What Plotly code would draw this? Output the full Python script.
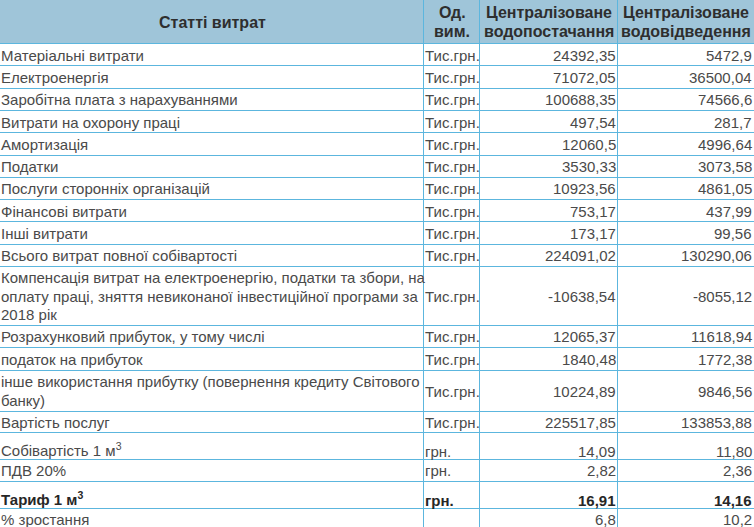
import plotly.graph_objects as go

# ---------------- data ----------------
header_labels = ["Статті витрат", "Од.<br>вим.", "Централізоване<br>водопостачання", "Централізоване<br>водовідведення"]

items = [
    "Матеріальні витрати",
    "Електроенергія",
    "Заробітна плата з нарахуваннями",
    "Витрати на охорону праці",
    "Амортизація",
    "Податки",
    "Послуги сторонніх організацій",
    "Фінансові витрати",
    "Інші витрати",
    "Всього витрат повної собівартості",
    "Компенсація витрат на електроенергію, податки та збори, на<br>оплату праці, зняття невиконаної інвестиційної програми за<br>2018 рік",
    "Розрахунковий прибуток, у тому числі",
    "податок на прибуток",
    "інше використання прибутку (повернення кредиту Світового<br>банку)",
    "Вартість послуг",
    "Собівартість 1 м<sup>3</sup>",
    "ПДВ 20%",
    "Тариф 1 м<sup>3</sup>",
    "% зростання",
]

units = ["Тис.грн."] * 15 + ["грн.", "грн.", "грн.", ""]

water_supply = ["24392,35", "71072,05", "100688,35", "497,54", "12060,5", "3530,33", "10923,56",
                "753,17", "173,17", "224091,02", "-10638,54", "12065,37", "1840,48", "10224,89",
                "225517,85", "14,09", "2,82", "16,91", "6,8"]

water_drain = ["5472,9", "36500,04", "74566,6", "281,7", "4996,64", "3073,58", "4861,05",
               "437,99", "99,56", "130290,06", "-8055,12", "11618,94", "1772,38", "9846,56",
               "133853,88", "11,80", "2,36", "14,16", "10,2"]

bold_rows = ["Тариф 1 м<sup>3</sup>"]

# ---------------- layout / style ----------------
W, H = 754, 527
col_edges = [0, 424, 480, 618, 754]
header_h = 44
row_heights = [22.3] * 10 + [58.5, 22.4, 22.6, 41, 21.7, 26.5, 22, 26.8, 22.4]
line_gap = 18.5
header_gap = 19
border = "#5cb6de"
header_bg = "#9fc5d9"
font_family = "Liberation Sans, Arial, sans-serif"
body_color = "#4a4a4a"
bold_color = "#262626"
head_color = "#2e2e2e"
body_size = 15
head_size = 16

columns = [items, units, water_supply, water_drain]
aligns = ["left", "left", "right", "right"]

fig = go.Figure(go.Scatter(x=[], y=[], hoverinfo="skip", showlegend=False))

# header background
fig.add_shape(type="rect", x0=0, x1=W, y0=0, y1=header_h, xref="x", yref="y",
              fillcolor=header_bg, line=dict(width=0), layer="below")

# row boundaries
bounds = [header_h]
for h in row_heights:
    bounds.append(bounds[-1] + h)

for b in bounds:
    yb = round(b) - 0.5
    fig.add_shape(type="line", x0=0, x1=W, y0=yb, y1=yb, xref="x", yref="y",
                  line=dict(color=border, width=1))
for xe in col_edges[1:-1]:
    xv = xe - 0.5
    fig.add_shape(type="line", x0=xv, x1=xv, y0=0, y1=H + 10, xref="x", yref="y",
                  line=dict(color=border, width=1))


def text_anchor(ci, align):
    left, right = col_edges[ci], col_edges[ci + 1]
    if align == "left":
        return left + 1, "left"
    if align == "right":
        return right - 2, "right"
    return (left + right) / 2, "center"


# header texts
for ci, lab in enumerate(header_labels):
    lines = lab.split("<br>")
    x, xa = text_anchor(ci, "center")
    for li, ln in enumerate(lines):
        yc = header_h / 2 + (li - (len(lines) - 1) / 2) * header_gap
        fig.add_annotation(x=x, y=yc, xref="x", yref="y", text="<b>" + ln + "</b>",
                           xanchor=xa, yanchor="middle", showarrow=False,
                           borderpad=0, borderwidth=0,
                           font=dict(family=font_family, size=head_size, color=head_color))

# body texts
for ri in range(len(items)):
    top, bot = bounds[ri], bounds[ri + 1]
    center = (top + bot) / 2
    has_sup = "<sup>" in items[ri]
    bold = items[ri] in bold_rows
    for ci, col in enumerate(columns):
        val = col[ri]
        if not val:
            continue
        x, xa = text_anchor(ci, aligns[ci])
        lines = val.split("<br>")
        for li, ln in enumerate(lines):
            yc = center + (li - (len(lines) - 1) / 2) * line_gap
            if has_sup:
                yc += 3 if "<sup>" in ln else 5
            txt = "<b>" + ln + "</b>" if bold else ln
            fig.add_annotation(x=x, y=yc, xref="x", yref="y", text=txt,
                               xanchor=xa, yanchor="middle", showarrow=False,
                               borderpad=0, borderwidth=0,
                               font=dict(family=font_family, size=body_size,
                                         color=bold_color if bold else body_color))

fig.update_layout(
    width=W, height=H,
    margin=dict(l=0, r=0, t=0, b=0),
    paper_bgcolor="white", plot_bgcolor="white",
    xaxis=dict(range=[0, W], visible=False, fixedrange=True),
    yaxis=dict(range=[H, 0], visible=False, fixedrange=True),
    showlegend=False,
)

fig.write_html("out.html", config={"displayModeBar": False},
               post_script="document.body.style.margin='0';")
